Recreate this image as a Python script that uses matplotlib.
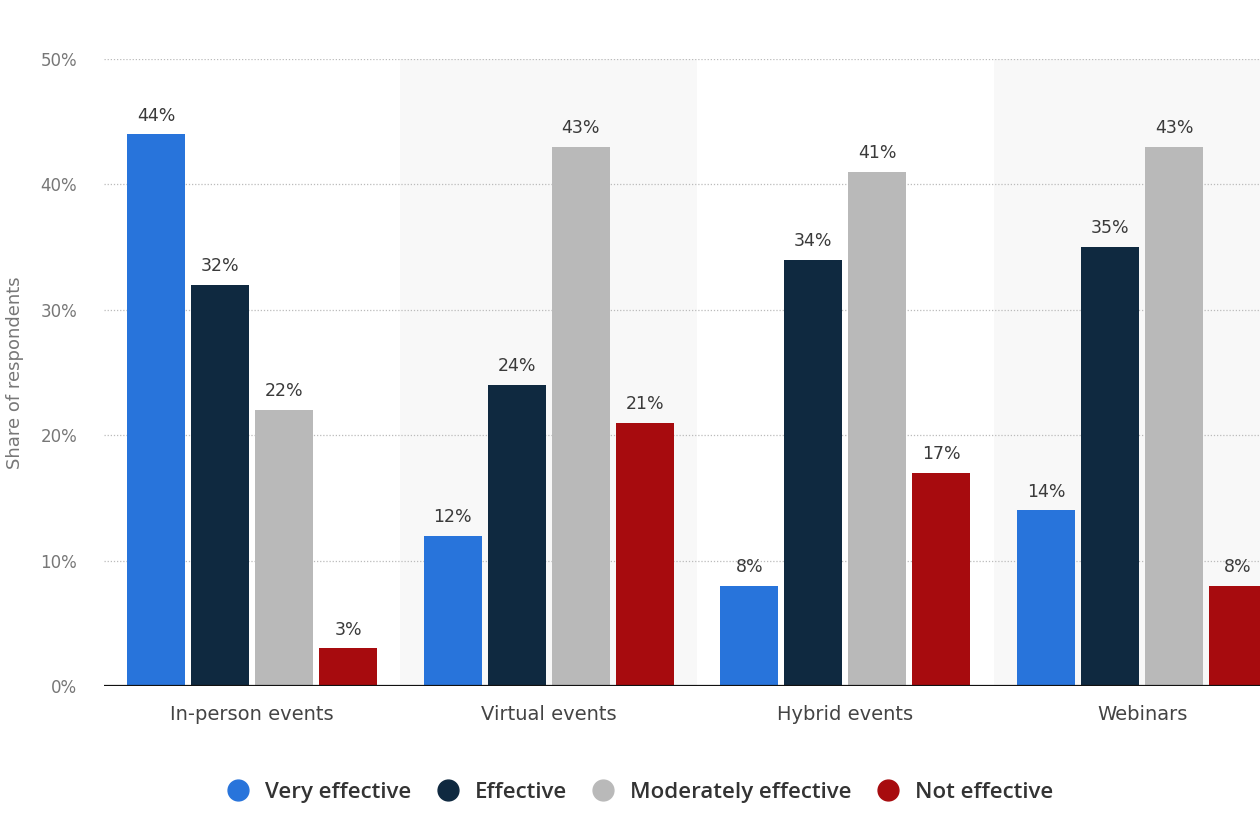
import matplotlib
matplotlib.use("Agg")
import matplotlib.pyplot as plt
import numpy as np
from matplotlib.lines import Line2D

categories = ["In-person events", "Virtual events", "Hybrid events", "Webinars"]
series_names = ["Very effective", "Effective", "Moderately effective", "Not effective"]
very_effective = [44, 12, 8, 14]
effective = [32, 24, 34, 35]
moderately_effective = [22, 43, 41, 43]
not_effective = [3, 21, 17, 8]
yticks = [0, 10, 20, 30, 40, 50]
ytick_labels = ["0%", "10%", "20%", "30%", "40%", "50%"]

series = [very_effective, effective, moderately_effective, not_effective]
colors = ["#2874DB", "#0F2940", "#B9B9B9", "#A70B0E"]

plt.rcParams['font.family'] = ['DejaVu Sans']

fig = plt.figure(figsize=(12.6, 8.4), dpi=100)
ax = fig.add_axes([0.0823, 0.1833, 0.9418, 0.7464])

x = np.arange(len(categories))
step = 0.2157
width = 0.1955

for i in range(len(categories)):
    if i % 2 == 1:
        ax.axvspan(i - 0.5, i + 0.5, color="#F8F8F8", zorder=0, lw=0)

for j, (vals, c) in enumerate(zip(series, colors)):
    pos = x + (j - 1.5) * step
    ax.bar(pos, vals, width=width, color=c, zorder=3, linewidth=0)
    for p, v in zip(pos, vals):
        ax.annotate(f"{v}%", (p, v), xytext=(0, 7), textcoords="offset points",
                    ha="center", va="bottom", fontsize=12.5, color="#3a3a3a",
                    zorder=4)

ax.set_xlim(-0.5, len(categories) - 0.5)
ax.set_ylim(0, 50)
ax.set_yticks(yticks)
ax.set_yticklabels(ytick_labels)
ax.set_xticks(x)
ax.set_xticklabels(categories)

for y in yticks[1:]:
    ax.axhline(y, color="#BBBBBB", lw=0.9, ls=(0, (1, 1.5)), zorder=1)
ax.axhline(0, color="#111111", lw=1.6, zorder=5)

for s in ax.spines.values():
    s.set_visible(False)
ax.tick_params(axis="y", length=0, pad=19, labelsize=12, labelcolor="#777777")
ax.tick_params(axis="x", length=0, pad=14, labelsize=14, labelcolor="#444444")

fig.text(0.012, 1 - (686 + 59) / 2 / 840, "Share of respondents", rotation=90,
         ha="center", va="center", fontsize=13, color="#777777")

handles = [Line2D([0], [0], marker="o", ls="", markersize=15, markerfacecolor=c,
                  markeredgecolor=c) for c in colors]
leg = fig.legend(handles, series_names, loc="center", bbox_to_anchor=(0.508, 0.057),
                 ncol=4, frameon=False, handlelength=1.0, handletextpad=0.7,
                 columnspacing=1.15,
                 prop={"family": "Open Sans", "size": 16, "weight": "semibold"})
for t in leg.get_texts():
    t.set_color("#333333")

fig.savefig("out.png", dpi=100)
